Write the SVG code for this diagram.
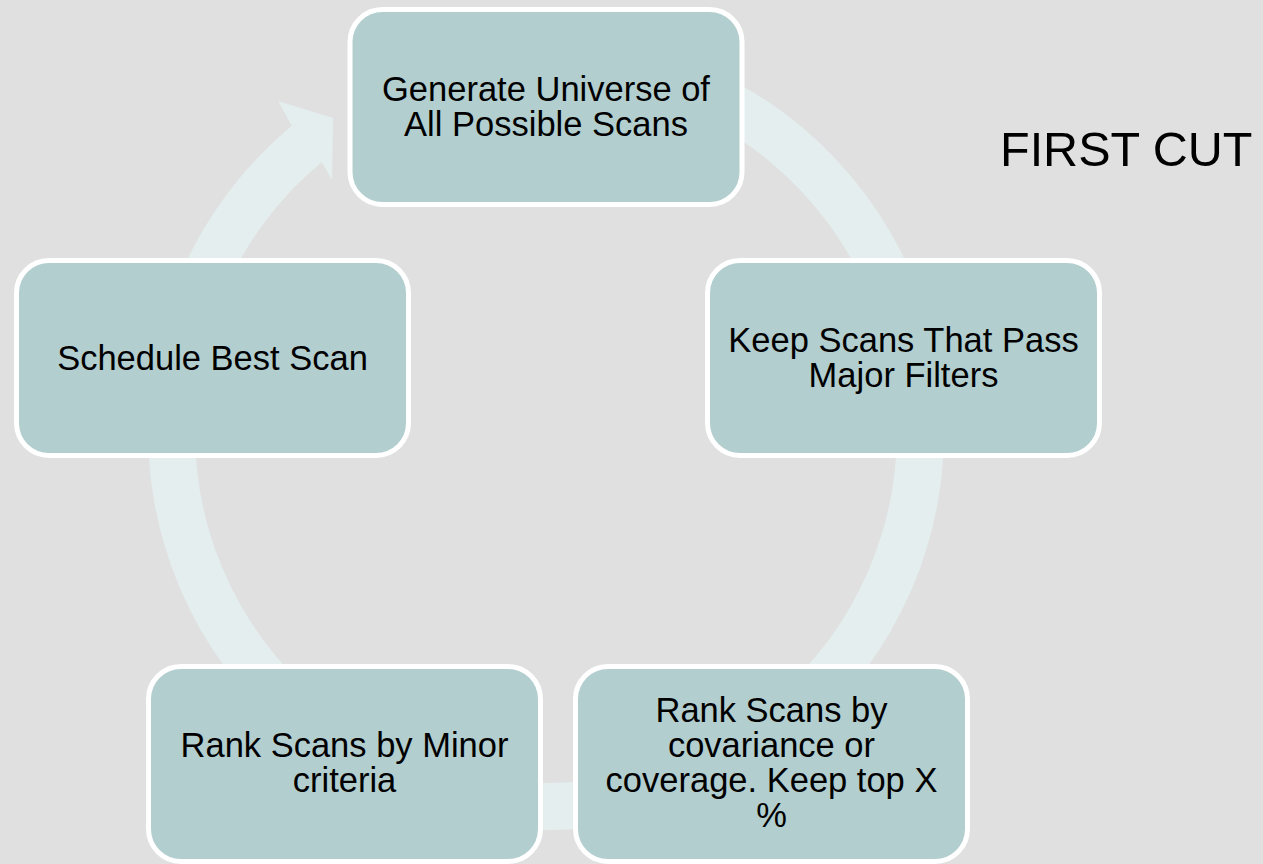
<svg xmlns="http://www.w3.org/2000/svg" width="1263" height="864" viewBox="0 0 1263 864">
  <style>
    .node rect { fill: #B2CECF; stroke: #FFFFFF; stroke-width: 5; }
    .node text { font-family: "Liberation Sans", Arial, sans-serif; font-size: 34.5px; fill: #000000; text-anchor: middle; }
    .band { fill: #E4EEEE; stroke: none; }
    .title { font-family: "Liberation Sans", Arial, sans-serif; font-size: 48.5px; fill: #000000; }
  </style>
  <rect x="0" y="0" width="1263" height="864" fill="#E0E0E0"/>
  <g id="connectors">
    <path class="band" d="M 546 34 A 398 398 0 1 1 291.8 125.8 L 278 101 L 333 118 L 332 180 L 321.8 161.9 A 351 351 0 1 0 546 81 Z"/>
  </g>
  <g id="node-generate" class="node">
    <rect x="350" y="9.5" width="392" height="195" rx="32.5" ry="32.5"/>
    <text x="546" y="101">Generate Universe of</text>
    <text x="546" y="136">All Possible Scans</text>
  </g>
  <g id="node-keep" class="node">
    <rect x="707.5" y="260.5" width="392" height="195" rx="32.5" ry="32.5"/>
    <text x="903.5" y="352">Keep Scans That Pass</text>
    <text x="903.5" y="387">Major Filters</text>
  </g>
  <g id="node-rank-cov" class="node">
    <rect x="575.5" y="666.5" width="392" height="195" rx="32.5" ry="32.5"/>
    <text x="771.5" y="722">Rank Scans by</text>
    <text x="771.5" y="757">covariance or</text>
    <text x="771.5" y="792">coverage. Keep top X</text>
    <text x="771.5" y="827">%</text>
  </g>
  <g id="node-rank-minor" class="node">
    <rect x="148.5" y="666.5" width="392" height="195" rx="32.5" ry="32.5"/>
    <text x="344.5" y="757">Rank Scans by Minor</text>
    <text x="344.5" y="792">criteria</text>
  </g>
  <g id="node-schedule" class="node">
    <rect x="16.5" y="260.5" width="392" height="195" rx="32.5" ry="32.5"/>
    <text x="212.5" y="369.5">Schedule Best Scan</text>
  </g>
  <g id="label-first-cut">
    <text class="title" x="1000" y="166">FIRST CUT</text>
  </g>
</svg>
